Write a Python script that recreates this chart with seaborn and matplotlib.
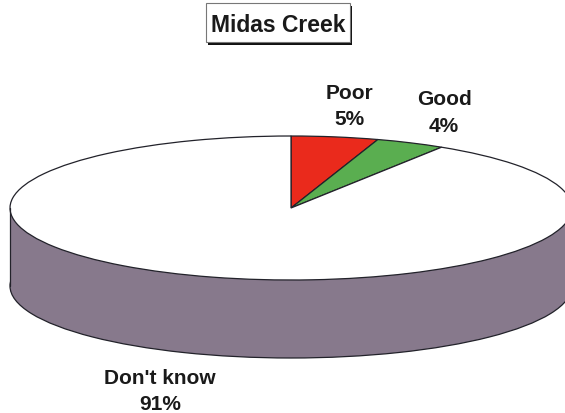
import matplotlib
matplotlib.use("Agg")
import matplotlib.pyplot as plt
from matplotlib.patches import Rectangle
import seaborn as sns

categories = ["Poor", "Good", "Don't know"]
values = [5, 4, 91]
colors = ["#ea2a1c", "#5aae50", "#ffffff"]
wall_color = "#87798c"
title = "Midas Creek"

sns.set_theme(style="white")
plt.rcParams["font.family"] = ["Liberation Sans", "DejaVu Sans"]

W, H = 565, 414
cx, cy, rx, ry, depth = 291, 209, 281, 72, 78
fig = plt.figure(figsize=(W / 100, H / 100), dpi=100, facecolor="white")
ax = fig.add_axes([0, 0, 1, 1])
edge = dict(edgecolor="#22222a", linewidth=0.9)
d = depth / ry

# side wall: lower full ellipse, plus the band up to the top face
ax.pie([1], colors=[wall_color], radius=1, center=(0, -d), wedgeprops=edge)
ax.bar(0, d, width=2, bottom=-d, color=wall_color, linewidth=0)
ax.plot([-1, -1], [-d, 0], color="#22222a", lw=0.9)
ax.plot([1, 1], [-d, 0], color="#22222a", lw=0.9)
# top face
ax.pie(values, colors=colors, startangle=90, counterclock=False, radius=1,
       center=(0, 0), wedgeprops=edge)

ax.set_aspect("auto")
ax.set_xlim(-cx / rx, (W - cx) / rx)
ax.set_ylim(-(H - cy) / ry, cy / ry)
ax.axis("off")

def T(px, py, s, size=15, **kw):
    ax.text((px - cx) / rx, (cy - py) / ry, s, ha="center", va="center",
            fontsize=size, fontweight="bold", color="#1a1a1a", **kw)

def box(x0, y0, x1, y1, **kw):
    fig.add_artist(Rectangle((x0 / W, 1 - y1 / H), (x1 - x0) / W, (y1 - y0) / H,
                             transform=fig.transFigure, **kw))

box(208, 7, 352, 46, facecolor="#111111", edgecolor="none", zorder=3)
box(206, 4, 350, 43, facecolor="white", edgecolor="#777777", linewidth=0.8, zorder=4)
fig.text(278.5 / W, 1 - 25.5 / H, title, ha="center", va="center", fontsize=16.5,
         fontweight="bold", color="#1a1a1a", zorder=5)

T(349, 106.5, f"{categories[0]}\n{values[0]}%", linespacing=1.5)
T(444, 113, f"{categories[1]}\n{values[1]}%", linespacing=1.5)
T(160, 391.5, f"{categories[2]}\n{values[2]}%", linespacing=1.5)
fig.savefig("out.png", dpi=100)
